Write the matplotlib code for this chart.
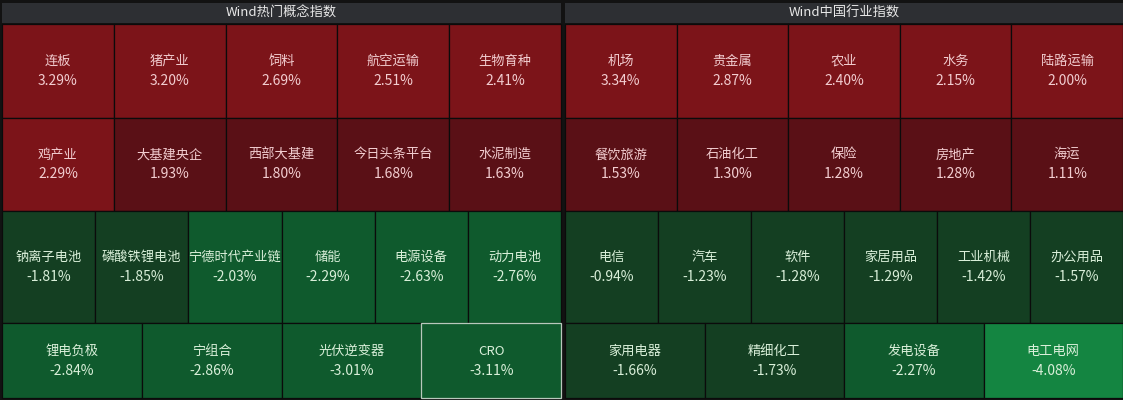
import matplotlib
matplotlib.use("Agg")
import matplotlib.pyplot as plt
from matplotlib.patches import Rectangle

plt.rcParams['font.family'] = ['Noto Sans CJK SC', 'DejaVu Sans']

# ---- data ----
left_title = "Wind热门概念指数"
left_rows = [
    ["连板", "猪产业", "饲料", "航空运输", "生物育种"],
    ["鸡产业", "大基建央企", "西部大基建", "今日头条平台", "水泥制造"],
    ["钠离子电池", "磷酸铁锂电池", "宁德时代产业链", "储能", "电源设备", "动力电池"],
    ["锂电负极", "宁组合", "光伏逆变器", "CRO"],
]
left_values = [
    [3.29, 3.20, 2.69, 2.51, 2.41],
    [2.29, 1.93, 1.80, 1.68, 1.63],
    [-1.81, -1.85, -2.03, -2.29, -2.63, -2.76],
    [-2.84, -2.86, -3.01, -3.11],
]
right_title = "Wind中国行业指数"
right_rows = [
    ["机场", "贵金属", "农业", "水务", "陆路运输"],
    ["餐饮旅游", "石油化工", "保险", "房地产", "海运"],
    ["电信", "汽车", "软件", "家居用品", "工业机械", "办公用品"],
    ["家用电器", "精细化工", "发电设备", "电工电网"],
]
right_values = [
    [3.34, 2.87, 2.40, 2.15, 2.00],
    [1.53, 1.30, 1.28, 1.28, 1.11],
    [-0.94, -1.23, -1.28, -1.29, -1.42, -1.57],
    [-1.66, -1.73, -2.27, -4.08],
]
highlight = "CRO"


def cell_color(v):
    if v >= 2.0:
        return "#7c1419"
    if v > 0:
        return "#5a1016"
    if v > -2.0:
        return "#143f22"
    if v > -4.0:
        return "#0f5a2d"
    return "#148541"


def text_color(v):
    return "#f2cdd0" if v > 0 else "#d9efd9"


W, H = 1123, 400
fig = plt.figure(figsize=(W / 100, H / 100), dpi=100)
fig.patch.set_facecolor("#121212")
ax = fig.add_axes([0, 0, 1, 1])
ax.set_xlim(0, W)
ax.set_ylim(H, 0)
ax.axis("off")

header_top, header_bot = 3, 23
cells_top, cells_bot = 24, 398


def draw_panel(x0, x1, title, rows, values):
    ax.add_patch(Rectangle((x0, header_top), x1 - x0, header_bot - header_top,
                           facecolor="#2d2f33", edgecolor="none"))
    ax.text((x0 + x1) / 2, (header_top + header_bot) / 2 + 0.5, title,
            ha="center", va="center", color="#e8e8e8", fontsize=9.5)
    total = sum(len(r) for r in rows)
    y = cells_top
    for names, vals in zip(rows, values):
        h = (cells_bot - cells_top) * len(names) / total
        w = (x1 - x0) / len(names)
        for i, (n, v) in enumerate(zip(names, vals)):
            cx = x0 + i * w
            ec = "#b8c8bc" if n == highlight else "#0b0b0b"
            ax.add_patch(Rectangle((cx, y), w, h, facecolor=cell_color(v),
                                   edgecolor=ec, linewidth=0.9))
            mx, my = cx + w / 2, y + h / 2
            ax.text(mx, my - 9.5, n, ha="center", va="center",
                    color=text_color(v), fontsize=9.5)
            ax.text(mx, my + 10, f"{v:.2f}%", ha="center", va="center",
                    color=text_color(v), fontsize=10)
        y += h


draw_panel(2, 561, left_title, left_rows, left_values)
draw_panel(565, 1123, right_title, right_rows, right_values)

fig.savefig("out.png", dpi=100, facecolor=fig.get_facecolor())
